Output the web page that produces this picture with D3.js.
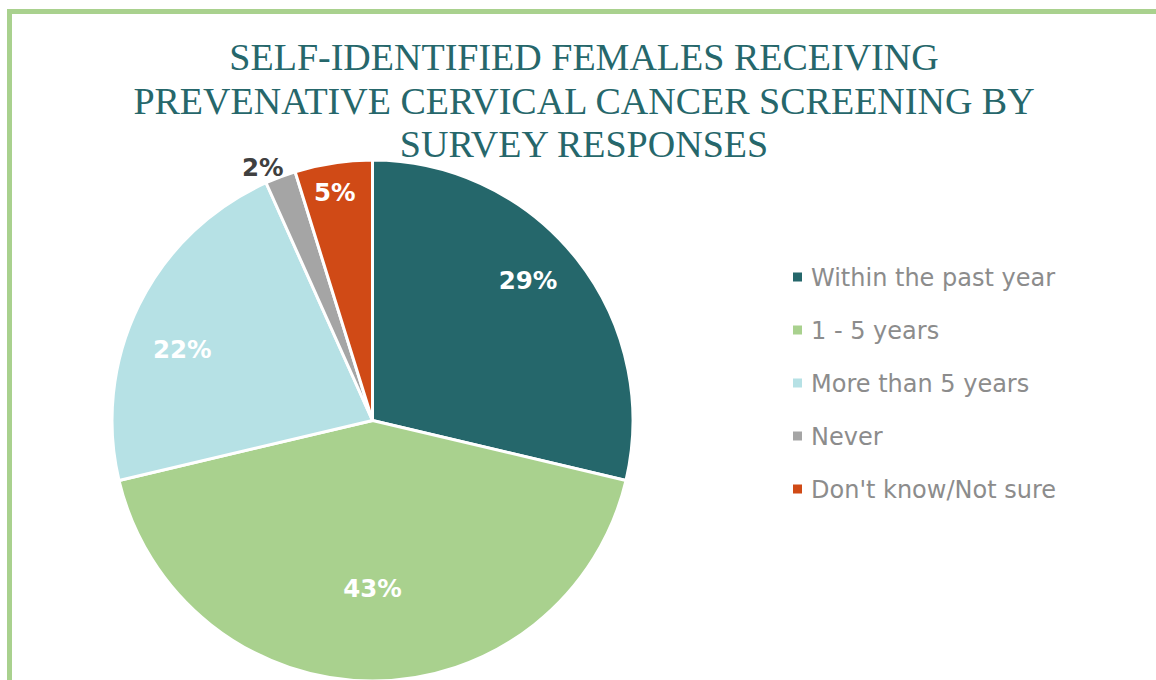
<!DOCTYPE html>
<html>
<head>
<meta charset="utf-8">
<script src="https://cdn.jsdelivr.net/npm/d3@7"></script>
<style>
  html, body { margin: 0; padding: 0; background: #fff; overflow: hidden; }
</style>
</head>
<body>
<div id="chart"></div>
<script>
// chart data
var categories = ['Within the past year', '1 - 5 years', 'More than 5 years', 'Never', "Don't know/Not sure"];
var shares = [28.7, 42.6, 22.0, 1.9, 4.8];
var colors = ['#25676b', '#a9d18e', '#b6e1e5', '#a5a5a5', '#d04a16'];
var titleLines = ['SELF-IDENTIFIED FEMALES RECEIVING', 'PREVENATIVE CERVICAL CANCER SCREENING BY', 'SURVEY RESPONSES'];

// label placement: fraction of radius, and a small angle nudge (degrees)
var labelRadius = [0.805, 0.643, 0.78, 1.06, 0.89];
var labelNudge = [-3.8, 0, -5.7, -2.7, -0.7];
var labelColors = ['#fff', '#fff', '#fff', '#404040', '#fff'];

var width = 1156, height = 680;
var cx = 372.5, cy = 420.5, r = 260.5;

var svg = d3.select('#chart')
  .append('svg')
  .attr('width', width)
  .attr('height', height);

// green frame (top + left edges visible)
svg.append('rect')
  .attr('x', 9.5)
  .attr('y', 11.5)
  .attr('width', width + 20)
  .attr('height', height + 20)
  .attr('fill', 'none')
  .attr('stroke', '#a9d18e')
  .attr('stroke-width', 5);

// title
svg.append('text')
  .attr('text-anchor', 'middle')
  .attr('fill', '#26676b')
  .style('font-family', '"Liberation Serif", "DejaVu Serif", serif')
  .style('font-size', '38px')
  .selectAll('tspan')
  .data(titleLines)
  .enter()
  .append('tspan')
  .attr('x', 584)
  .attr('y', (d, i) => 70 + i * 43.5)
  .text(d => d);

// pie
var pie = d3.pie().sort(null).value(d => d);
var arcs = pie(shares);
var arc = d3.arc().innerRadius(0).outerRadius(r);

var g = svg.append('g').attr('transform', `translate(${cx},${cy})`);

g.selectAll('path.slice')
  .data(arcs)
  .enter()
  .append('path')
  .attr('class', 'slice')
  .attr('d', arc)
  .attr('fill', (d, i) => colors[i])
  .attr('stroke', '#fff')
  .attr('stroke-width', 3)
  .attr('stroke-linejoin', 'round');

g.selectAll('text.lbl')
  .data(arcs)
  .enter()
  .append('text')
  .attr('class', 'lbl')
  .attr('transform', (d, i) => {
    var a = (d.startAngle + d.endAngle) / 2 + labelNudge[i] * Math.PI / 180;
    var rr = r * labelRadius[i];
    return `translate(${Math.sin(a) * rr},${-Math.cos(a) * rr})`;
  })
  .attr('text-anchor', 'middle')
  .attr('dy', '0.36em')
  .attr('fill', (d, i) => labelColors[i])
  .style('font-family', '"DejaVu Sans", Verdana, sans-serif')
  .style('font-weight', 'bold')
  .style('font-size', '24.5px')
  .text(d => Math.round(d.data) + '%');

// legend
var legend = svg.append('g')
  .selectAll('g')
  .data(categories)
  .enter()
  .append('g')
  .attr('transform', (d, i) => `translate(793,${277 + i * 53})`);

legend.append('rect')
  .attr('x', 0)
  .attr('y', -4.5)
  .attr('width', 9)
  .attr('height', 9)
  .attr('fill', (d, i) => colors[i]);

legend.append('text')
  .attr('x', 18)
  .attr('dy', '0.36em')
  .attr('fill', '#8c8c8c')
  .style('font-family', '"DejaVu Sans", Verdana, sans-serif')
  .style('font-size', '24px')
  .text(d => d);
</script>
</body>
</html>
